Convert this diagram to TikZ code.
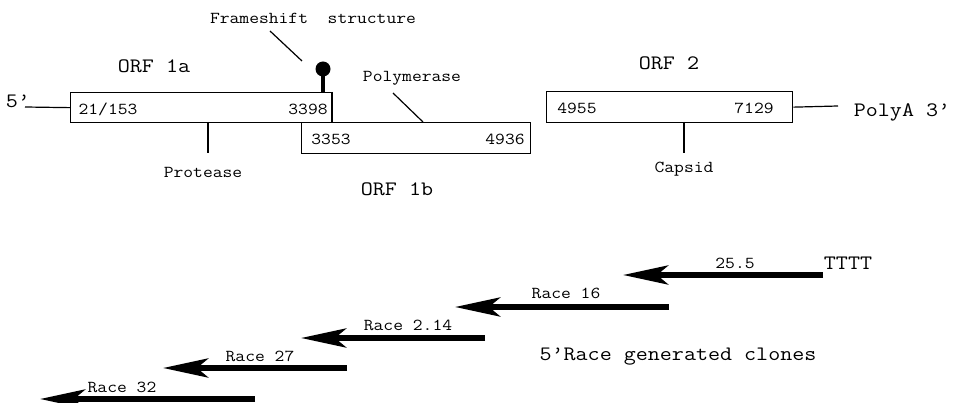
\documentclass[tikz,border=0pt]{standalone}
\usepackage{fontspec}
\newfontfamily\cour{Latin Modern Mono}[FakeStretch=1.14]
\usetikzlibrary{arrows.meta}
\tikzset{
  small/.style={font=\cour\fontsize{16.7}{18}\selectfont, inner sep=0pt},
  large/.style={font=\cour\fontsize{20.5}{22}\selectfont, inner sep=0pt},
  orfbox/.style={draw, line width=1.3pt, inner sep=0pt, anchor=north west},
  thin/.style={line width=1.2pt},
  clone/.style={line width=6pt, -{Stealth[length=45pt,width=19pt,inset=11pt]}}
}
\begin{document}
\begin{tikzpicture}[x=1pt,y=-1pt]
\useasboundingbox (0,0) rectangle (959,403);
% boxes
\node[orfbox, minimum width=261pt, minimum height=30pt] (orf1a) at (70,92) {};
\node[orfbox, minimum width=229pt, minimum height=31pt] (orf1b) at (301,122) {};
\node[orfbox, minimum width=246pt, minimum height=31pt] (orf2) at (546,91) {};
\draw[line width=2.2pt] (orf1a.north east) -- (orf1a.south east);
% end labels
\node[large] (five) at (18,101) {5’};
\node[large] (polya) at (902,112) {PolyA 3’};
\draw[thin] (25,107) -- (orf1a.west);
\draw[thin] (orf2.east) -- (838,106);
% numbers
\node[small] (n1) at (108,109) {21/153};
\node[small] (n2) at (308,109) {3398};
\node[small] (n3) at (331,139) {3353};
\node[small] (n4) at (505,139) {4936};
\node[small] (n5) at (577,108) {4955};
\node[small] (n6) at (754,108) {7129};
% ORF labels
\node[large] (l1a) at (154,66) {ORF 1a};
\node[large] (l1b) at (397,189) {ORF 1b};
\node[large] (l2) at (669,63) {ORF 2};
% frameshift
\node[circle, fill, minimum size=15pt, inner sep=0pt] (ball) at (323,69) {};
\draw[line width=4.5pt] (ball.center) -- (ball |- orf1a.north);
\node[small] (fs) at (313,18) {Frameshift\ \ structure};
\coordinate (fsa) at (270,31);
\coordinate (fsb) at (302,61);
\draw[thin] (fsa) -- (fsb);
% polymerase
\node[small] (pol) at (412,78) {Polymerase};
\coordinate (pola) at (393,93);
\coordinate (polb) at (423,122);
\draw[thin] (pola) -- (polb);
% protease
\node[small] (prot) at (203,172) {Protease};
\coordinate (prota) at (208,122);
\coordinate (protb) at (208,153);
\draw[thin] (prota) -- (protb);
% capsid
\node[small] (cap) at (684,169) {Capsid};
\coordinate (capa) at (684,122);
\coordinate (capb) at (684,153);
\draw[thin] (capa) -- (capb);
% clones
\coordinate (c1s) at (823,275); \coordinate (c1e) at (623,275);
\coordinate (c2s) at (669,307); \coordinate (c2e) at (455,307);
\coordinate (c3s) at (485,338); \coordinate (c3e) at (301,338);
\coordinate (c4s) at (347,368); \coordinate (c4e) at (163,368);
\coordinate (c5s) at (255,399); \coordinate (c5e) at (40,399);
\draw[clone] (c1s) -- (c1e);
\draw[clone] (c2s) -- (c2e);
\draw[clone] (c3s) -- (c3e);
\draw[clone] (c4s) -- (c4e);
\draw[clone] (c5s) -- (c5e);
\node[small] (r1) at (735,263) {25.5};
\node[large] (tttt) at (848,263) {TTTT};
\node[small] (r2) at (566,293) {Race 16};
\node[small] (r3) at (408,325) {Race 2.14};
\node[small] (r4) at (260,356) {Race 27};
\node[small] (r5) at (122,387) {Race 32};
\node[large] (clones) at (678,357) {5’Race generated clones};
\end{tikzpicture}
\end{document}
